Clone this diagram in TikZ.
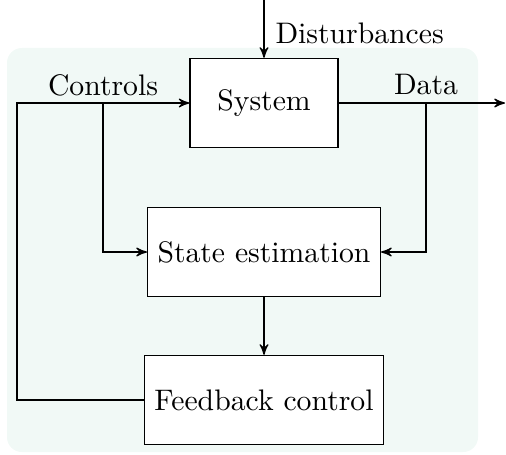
\documentclass[tikz,border=0pt]{standalone}
\usepackage{tikz}
\usetikzlibrary{arrows,positioning}
\definecolor{bgmint}{RGB}{241,249,246}

\begin{document}
\begin{tikzpicture}[x=0.3367pt,y=-0.3367pt,>=stealth',
    block/.style={fill=white,draw,minimum width=1.75cm,minimum height=30pt}]
    \useasboundingbox (0,0) rectangle (506,454);
    \fill[bgmint, rounded corners=5pt] (7,48) rectangle (478,452);

    \node (Sys) at (264,103) [block] {System};
    \node (Est) at (264,252) [block] {State estimation};
    \node (Fbk) at (264,400) [block] {Feedback control};

    \coordinate (Dtop) at (264,0);
    \coordinate (Out) at (505,103);
    \coordinate (Cbr) at (103,103);
    \coordinate (Dbr) at (426,103);
    \coordinate (Cleft) at (17,103);

    \node (CtlLbl) at (103,85) {Controls};
    \node (DatLbl) at (426,85) {Data};
    \node (DstLbl) at (265,33) [anchor=west] {Disturbances};

    \draw[->] (Dtop) to (Sys.north);
    \draw[->] (Fbk.west) -| (Cleft) -- (Sys.west);
    \draw[->] (Sys.east) to (Out);
    \draw[->] (Cbr) |- (Est.west);
    \draw[->] (Dbr) |- (Est.east);
    \draw[->] (Est.south) to (Fbk.north);
  \end{tikzpicture}
\end{document}
